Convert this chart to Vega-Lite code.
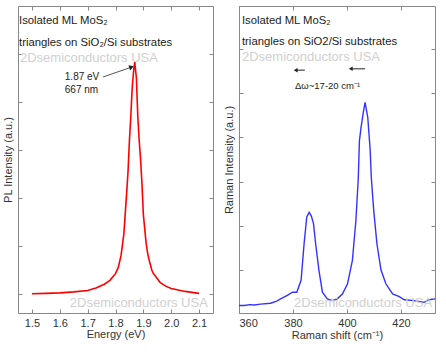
{
  "$schema": "https://vega.github.io/schema/vega-lite/v6.json",
  "padding": {"left": 2, "top": 5, "right": 0, "bottom": 0},
  "spacing": 9,
  "config": {
    "font": "Liberation Sans",
    "view": {"stroke": "#888888", "strokeWidth": 1},
    "axis": {
      "grid": false,
      "domainColor": "#888888",
      "tickColor": "#888888",
      "labelColor": "#333333",
      "titleColor": "#333333",
      "labelFontSize": 11,
      "titleFontSize": 11,
      "titleFontWeight": "normal"
    }
  },
  "hconcat": [
    {
      "width": 195,
      "height": 307,
      "resolve": {"axis": {"x": "independent", "y": "independent"}},
      "layer": [
        {
          "data": {"values": [
            {"e": 1.50, "i": 0.00}, {"e": 1.55, "i": 0.01}, {"e": 1.60, "i": 0.02},
            {"e": 1.65, "i": 0.04}, {"e": 1.70, "i": 0.07}, {"e": 1.73, "i": 0.12},
            {"e": 1.76, "i": 0.20}, {"e": 1.78, "i": 0.28}, {"e": 1.80, "i": 0.42},
            {"e": 1.81, "i": 0.55}, {"e": 1.82, "i": 0.80}, {"e": 1.83, "i": 1.25},
            {"e": 1.84, "i": 2.10}, {"e": 1.845, "i": 2.55}, {"e": 1.85, "i": 3.2},
            {"e": 1.855, "i": 3.7}, {"e": 1.86, "i": 4.3}, {"e": 1.865, "i": 4.65},
            {"e": 1.869, "i": 4.83}, {"e": 1.875, "i": 4.5}, {"e": 1.88, "i": 3.7},
            {"e": 1.885, "i": 3.2}, {"e": 1.89, "i": 2.8}, {"e": 1.895, "i": 2.3},
            {"e": 1.90, "i": 1.65}, {"e": 1.91, "i": 1.05}, {"e": 1.915, "i": 0.86},
            {"e": 1.92, "i": 0.72}, {"e": 1.93, "i": 0.50}, {"e": 1.935, "i": 0.43},
            {"e": 1.96, "i": 0.24}, {"e": 1.98, "i": 0.16}, {"e": 2.00, "i": 0.11},
            {"e": 2.05, "i": 0.05}, {"e": 2.10, "i": 0.01}
          ]},
          "mark": {"type": "line", "color": "#ff0000", "strokeWidth": 1.6},
          "encoding": {
            "x": {"field": "e", "type": "quantitative",
              "scale": {"domain": [1.45, 2.15], "nice": false, "zero": false},
              "axis": {"title": "Energy (eV)", "values": [1.5, 1.6, 1.7, 1.8, 1.9, 2.0, 2.1], "format": ".1f",
                       "tickSize": -4, "labelPadding": 8, "titlePadding": 0}},
            "y": {"field": "i", "type": "quantitative",
              "scale": {"domain": [-0.4, 6.0], "nice": false, "zero": false},
              "axis": {"title": "PL Intensity (a.u.)", "values": [0, 1, 2, 3, 4, 5], "labels": false,
                       "tickSize": -4, "titlePadding": 4}}
          }
        },
        {
          "data": {"values": [
            {"x": 1.4536, "y": 5.68, "t": "Isolated ML MoS₂"},
            {"x": 1.4536, "y": 5.23, "t": "triangles on SiO₂/Si substrates"}
          ]},
          "mark": {"type": "text", "align": "left", "baseline": "middle", "fontSize": 11.3, "color": "#222222"},
          "encoding": {
            "x": {"field": "x", "type": "quantitative",
              "axis": {"orient": "top", "labels": false, "title": null, "domain": false, "tickSize": -4,
                       "values": [1.5, 1.6, 1.7, 1.8, 1.9, 2.0, 2.1]}},
            "y": {"field": "y", "type": "quantitative",
              "axis": {"orient": "right", "labels": false, "title": null, "domain": false, "tickSize": -4,
                       "values": [0, 1, 2, 3, 4, 5]}},
            "text": {"field": "t"}
          }
        },
        {
          "data": {"values": [
            {"x": 1.457, "y": 4.92, "t": "2Dsemiconductors USA"},
            {"x": 1.636, "y": -0.19, "t": "2Dsemiconductors USA"}
          ]},
          "mark": {"type": "text", "align": "left", "baseline": "middle", "fontSize": 13, "color": "#d0d0d0"},
          "encoding": {
            "x": {"field": "x", "type": "quantitative", "axis": null},
            "y": {"field": "y", "type": "quantitative", "axis": null},
            "text": {"field": "t"}
          }
        },
        {
          "data": {"values": [
            {"x": 1.618, "y": 4.52, "t": "1.87 eV"},
            {"x": 1.618, "y": 4.25, "t": "667 nm"}
          ]},
          "mark": {"type": "text", "align": "left", "baseline": "middle", "fontSize": 10, "color": "#222222"},
          "encoding": {
            "x": {"field": "x", "type": "quantitative", "axis": null},
            "y": {"field": "y", "type": "quantitative", "axis": null},
            "text": {"field": "t"}
          }
        },
        {
          "data": {"values": [{"x": 1.755, "y": 4.52, "x2": 1.855, "y2": 4.72}]},
          "mark": {"type": "rule", "color": "#555555", "strokeWidth": 1},
          "encoding": {
            "x": {"field": "x", "type": "quantitative", "axis": null},
            "y": {"field": "y", "type": "quantitative", "axis": null},
            "x2": {"field": "x2"},
            "y2": {"field": "y2"}
          }
        },
        {
          "data": {"values": [{"x": 1.855, "y": 4.72}]},
          "mark": {"type": "point", "shape": "triangle", "angle": 71, "filled": true, "size": 30, "color": "#222222", "opacity": 1},
          "encoding": {
            "x": {"field": "x", "type": "quantitative", "axis": null},
            "y": {"field": "y", "type": "quantitative", "axis": null}
          }
        }
      ]
    },
    {
      "width": 196,
      "height": 307,
      "resolve": {"axis": {"x": "independent", "y": "independent"}},
      "layer": [
        {
          "data": {"values": [
            {"s": 360, "i": -0.80}, {"s": 362, "i": -0.80}, {"s": 364, "i": -0.78},
            {"s": 365.6, "i": -0.79}, {"s": 368, "i": -0.77}, {"s": 371.7, "i": -0.75},
            {"s": 374, "i": -0.70}, {"s": 375.4, "i": -0.65}, {"s": 377.9, "i": -0.57},
            {"s": 379.8, "i": -0.50}, {"s": 381.4, "i": -0.50}, {"s": 383, "i": -0.23},
            {"s": 384.1, "i": 0.59}, {"s": 385.1, "i": 1.20}, {"s": 386, "i": 1.31},
            {"s": 386.8, "i": 1.22}, {"s": 387.6, "i": 1.05}, {"s": 388.4, "i": 0.59},
            {"s": 389.6, "i": 0.00}, {"s": 390.9, "i": -0.50}, {"s": 392.7, "i": -0.65},
            {"s": 394.6, "i": -0.69}, {"s": 396.4, "i": -0.65}, {"s": 398.3, "i": -0.54},
            {"s": 400.2, "i": -0.31}, {"s": 402, "i": 0.22}, {"s": 403.3, "i": 1.12},
            {"s": 404.2, "i": 2.10}, {"s": 404.6, "i": 2.92}, {"s": 405.2, "i": 3.22},
            {"s": 406.0, "i": 3.55}, {"s": 406.7, "i": 3.79}, {"s": 407.7, "i": 3.45},
            {"s": 408.6, "i": 2.7}, {"s": 409.0, "i": 2.1}, {"s": 409.9, "i": 1.35},
            {"s": 411.1, "i": 0.59}, {"s": 412.6, "i": 0.00}, {"s": 414.4, "i": -0.31},
            {"s": 416.9, "i": -0.54}, {"s": 419.4, "i": -0.60}, {"s": 421.2, "i": -0.67},
            {"s": 424.9, "i": -0.69}, {"s": 428.6, "i": -0.73}, {"s": 430.4, "i": -0.67},
            {"s": 432.6, "i": -0.65}
          ]},
          "mark": {"type": "line", "color": "#3333ff", "strokeWidth": 1.4},
          "encoding": {
            "x": {"field": "s", "type": "quantitative",
              "scale": {"domain": [360, 432.6], "nice": false, "zero": false},
              "axis": {"title": "Raman shift (cm⁻¹)", "values": [360, 380, 400, 420],
                       "tickSize": -4, "labelPadding": 8, "titlePadding": 1}},
            "y": {"field": "i", "type": "quantitative",
              "scale": {"domain": [-0.97, 5.97], "nice": false, "zero": false},
              "axis": {"title": "Raman Intensity (a.u.)", "values": [0, 1, 2, 3, 4, 5], "labels": false,
                       "tickSize": -4, "titlePadding": 4}}
          }
        },
        {
          "data": {"values": [
            {"x": 361.1, "y": 5.63, "t": "Isolated ML MoS₂"},
            {"x": 361.1, "y": 5.16, "t": "triangles on SiO2/Si substrates"}
          ]},
          "mark": {"type": "text", "align": "left", "baseline": "middle", "fontSize": 11.3, "color": "#222222"},
          "encoding": {
            "x": {"field": "x", "type": "quantitative",
              "axis": {"orient": "top", "labels": false, "title": null, "domain": false, "tickSize": -4,
                       "values": [360, 380, 400, 420]}},
            "y": {"field": "y", "type": "quantitative",
              "axis": {"orient": "right", "labels": false, "title": null, "domain": false, "tickSize": -4,
                       "values": [0, 1, 2, 3, 4, 5]}},
            "text": {"field": "t"}
          }
        },
        {
          "data": {"values": [
            {"x": 361.1, "y": 4.82, "t": "2Dsemiconductors USA"},
            {"x": 380.4, "y": -0.75, "t": "2Dsemiconductors USA"}
          ]},
          "mark": {"type": "text", "align": "left", "baseline": "middle", "fontSize": 13, "color": "#d0d0d0", "clip": true},
          "encoding": {
            "x": {"field": "x", "type": "quantitative", "axis": null},
            "y": {"field": "y", "type": "quantitative", "axis": null},
            "text": {"field": "t"}
          }
        },
        {
          "data": {"values": [{"x": 392.8, "y": 4.16, "t": "Δω~17-20 cm⁻¹"}]},
          "mark": {"type": "text", "align": "center", "baseline": "middle", "fontSize": 9.5, "color": "#222222"},
          "encoding": {
            "x": {"field": "x", "type": "quantitative", "axis": null},
            "y": {"field": "y", "type": "quantitative", "axis": null},
            "text": {"field": "t"}
          }
        },
        {
          "data": {"values": [
            {"x": 381.0, "x2": 384.4, "y": 4.52},
            {"x": 401.4, "x2": 406.7, "y": 4.55}
          ]},
          "mark": {"type": "rule", "color": "#222222", "strokeWidth": 1},
          "encoding": {
            "x": {"field": "x", "type": "quantitative", "axis": null},
            "x2": {"field": "x2"},
            "y": {"field": "y", "type": "quantitative", "axis": null}
          }
        },
        {
          "data": {"values": [{"x": 381.0, "y": 4.52}, {"x": 401.4, "y": 4.55}]},
          "mark": {"type": "point", "shape": "triangle-left", "filled": true, "size": 20, "color": "#222222", "opacity": 1},
          "encoding": {
            "x": {"field": "x", "type": "quantitative", "axis": null},
            "y": {"field": "y", "type": "quantitative", "axis": null}
          }
        }
      ]
    }
  ]
}
